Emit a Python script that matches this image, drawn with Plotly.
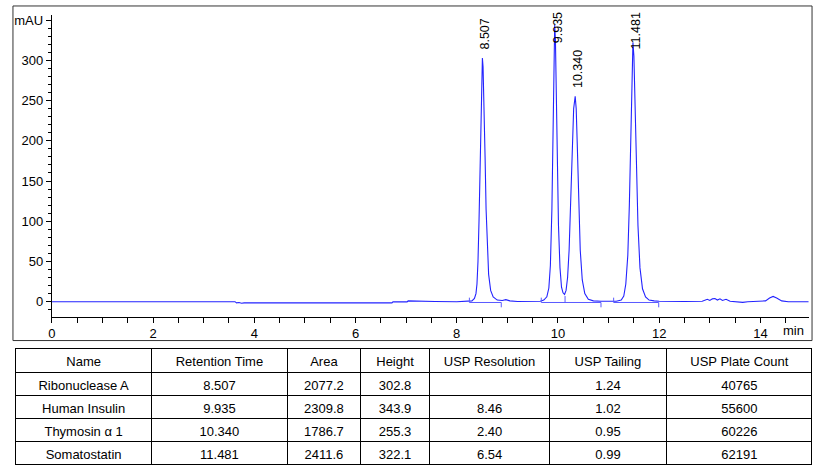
import plotly.graph_objects as go

# chromatogram trace (min, mAU)
time = [0.0, 3.62, 3.65, 3.70, 3.75, 3.80, 4.0, 5.0, 6.0, 6.72, 6.74, 7.02, 7.04, 7.55, 7.57,
        8.0, 8.2, 8.3, 8.35, 8.38, 8.40, 8.42, 8.44, 8.46, 8.48, 8.50, 8.507, 8.52, 8.54, 8.56,
        8.58, 8.60, 8.63, 8.67, 8.72, 8.80, 8.90, 8.97, 9.05, 9.20, 9.50, 9.65, 9.72, 9.78,
        9.82, 9.85, 9.88, 9.90, 9.92, 9.935, 9.95, 9.97, 9.99, 10.01, 10.04, 10.07, 10.10,
        10.13, 10.16, 10.19, 10.22, 10.25, 10.28, 10.31, 10.34, 10.36, 10.38, 10.41, 10.44,
        10.48, 10.53, 10.60, 10.70, 10.85, 11.00, 11.15, 11.25, 11.30, 11.34, 11.38, 11.41,
        11.44, 11.46, 11.481, 11.50, 11.52, 11.55, 11.58, 11.62, 11.67, 11.73, 11.80, 11.90,
        12.00, 12.50, 12.85, 12.95, 13.00, 13.05, 13.10, 13.15, 13.20, 13.25, 13.32, 13.40,
        13.55, 13.65, 13.75, 14.00, 14.10, 14.18, 14.25, 14.32, 14.42, 14.55, 14.85, 14.95]
mau = [0.0, 0.0, -1.5, -1.0, -2.0, -1.5, -1.5, -1.5, -1.5, -1.5, -0.3, -0.3, 1.0, 1.0, 0.2,
       0.0, 0.3, 1.0, 4, 10, 22, 50, 100, 175, 252, 298, 302.8, 292, 248, 180,
       115, 70, 34, 14, 6, 2, 1.5, 2.5, 1, 0.3, 0.3, 0.5, 2, 6,
       17, 45, 115, 195, 292, 343.9, 325, 252, 165, 95, 42, 18, 11,
       9, 14, 30, 64, 125, 192, 240, 255.3, 240, 198, 125, 64,
       27, 10, 3, 1, 0.5, 0.3, 0.5, 2, 7, 22, 58, 120,
       222, 286, 322.1, 305, 252, 165, 95, 42, 16, 6, 2, 1,
       0.5, 0.2, 0.5, 3, 1.5, 3.5, 4, 2, 3.5, 1.5, 3, 0.5,
       0, -0.8, 0, 0.3, 1, 4.5, 6.5, 4.5, 1, 0, 0.5, 0]

# integration baselines
base_start = [8.25, 9.67, 11.10]
base_end = [8.88, 10.85, 11.99]
base_valley = [10.14]
base_level = -1.0

# peak labels
peak_rt = [8.507, 9.935, 10.340, 11.481]
peak_height = [302.8, 343.9, 255.3, 322.1]

# results table
names = ["Ribonuclease A", "Human Insulin", "Thymosin \u03b1 1", "Somatostatin"]
ret_time = ["8.507", "9.935", "10.340", "11.481"]
area = ["2077.2", "2309.8", "1786.7", "2411.6"]
height = ["302.8", "343.9", "255.3", "322.1"]
usp_res = ["", "8.46", "2.40", "6.54"]
usp_tail = ["1.24", "1.02", "0.95", "0.99"]
usp_plate = ["40765", "55600", "60226", "62191"]
headers = ["Name", "Retention Time", "Area", "Height", "USP Resolution", "USP Tailing", "USP Plate Count"]

W, H = 819, 468
FONT = "Liberation Sans, Arial, sans-serif"
BLUE = "#2323ff"

fig = go.Figure()
fig.add_trace(go.Scatter(x=time, y=mau, mode="lines", line=dict(color=BLUE, width=1.1),
                         showlegend=False, hoverinfo="skip"))

# baseline segments with small end ticks
bx, by = [], []
for s, e in zip(base_start, base_end):
    bx += [s, s, e, e, None]
    by += [base_level + 6, base_level, base_level, base_level - 6, None]
for v in base_valley:
    bx += [v, v, None]
    by += [base_level, base_level + 8, None]
fig.add_trace(go.Scatter(x=bx, y=by, mode="lines", line=dict(color="#5a5aff", width=1),
                         showlegend=False, hoverinfo="skip"))

# results table
fig.add_trace(go.Table(
    domain=dict(x=[12 / W, 812 / W], y=[(H - 466) / H, (H - 348) / H]),
    columnwidth=[136, 137, 73, 70, 120, 118, 146],
    header=dict(values=headers, align="center", height=24,
                line=dict(color="black", width=1), fill=dict(color="white"),
                font=dict(family=FONT, size=13, color="black")),
    cells=dict(values=[names, ret_time, area, height, usp_res, usp_tail, usp_plate],
               align="center", height=23,
               line=dict(color="black", width=1), fill=dict(color="white"),
               font=dict(family=FONT, size=13, color="black")),
))

ymin, ymax = -18.6, 356.4
for rt, h in zip(peak_rt, peak_height):
    label_len = 44
    y, anchor, shift = h + 8, "bottom", 0
    if y + label_len > ymax:
        # label pushed against the top of the plot
        y, anchor, shift = ymax - 0.1, "top", 5
    fig.add_annotation(x=rt, y=y, text=f"{rt:.3f}", textangle=-90, showarrow=False,
                       xanchor="center", yanchor=anchor, xshift=3, yshift=shift,
                       font=dict(family=FONT, size=12.5, color="black"))

fig.add_annotation(x=793 / W, y=(H - 330) / H, xref="paper", yref="paper", text="min",
                   showarrow=False, xanchor="center", yanchor="middle",
                   font=dict(family=FONT, size=13, color="black"))

# outer frame of the chromatogram
fig.add_shape(type="rect", xref="paper", yref="paper",
              x0=9 / W, x1=812 / W, y0=(H - 340) / H, y1=(H - 4) / H,
              line=dict(color="#333333", width=1))

fig.update_layout(
    width=W, height=H,
    margin=dict(l=0, r=0, t=0, b=0),
    paper_bgcolor="white", plot_bgcolor="white",
    font=dict(family=FONT, size=12, color="black"),
    xaxis=dict(domain=[48 / W, 809 / W], range=[0, 14.96],
               tickvals=[0, 2, 4, 6, 8, 10, 12, 14], ticks="outside", ticklen=5,
               tickcolor="black", showline=True, linecolor="black", linewidth=1,
               showgrid=False, zeroline=False, tickfont=dict(size=13),
               minor=dict(dtick=0.5, tick0=0, ticks="outside", ticklen=5, tickcolor="black")),
    yaxis=dict(domain=[(H - 316) / H, (H - 13) / H], range=[ymin, ymax],
               tickvals=[0, 50, 100, 150, 200, 250, 300, 350],
               ticktext=["0", "50", "100", "150", "200", "250", "300", "mAU"],
               ticks="outside", ticklen=5, tickcolor="black",
               showline=True, linecolor="black", linewidth=1,
               showgrid=False, zeroline=False, tickfont=dict(size=13),
               minor=dict(dtick=10, tick0=0, ticks="outside", ticklen=3, tickcolor="black")),
)

fig.write_html("out.html", config={"displayModeBar": False},
               post_script="document.body.style.margin='0px';")
